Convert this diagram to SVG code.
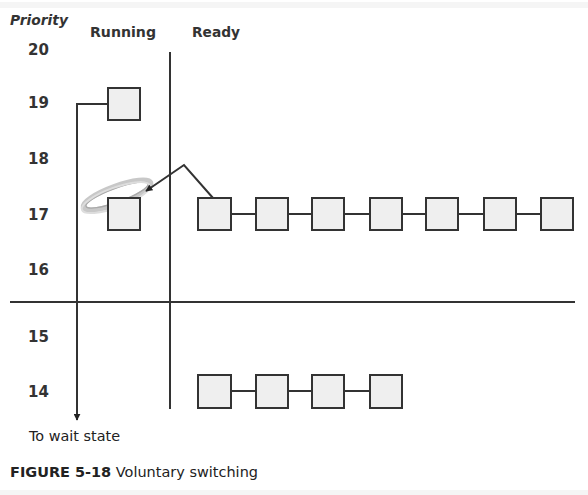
<svg xmlns="http://www.w3.org/2000/svg" width="588" height="495" viewBox="0 0 588 495">
<style>
.box{fill:#efefef;stroke:#333;stroke-width:2}
.ln{stroke:#333;stroke-width:2;fill:none}
.lbl{font-family:"DejaVu Sans","Open Sans",sans-serif;font-weight:bold;font-size:14px;fill:#333}
.num{font-family:"DejaVu Sans","Open Sans",sans-serif;font-weight:bold;font-size:15px;fill:#333}
.txt{font-family:"DejaVu Sans","Open Sans",sans-serif;font-size:13.5px;fill:#222}
</style>
<defs>
<marker id="ah" viewBox="0 0 10 10" refX="9" refY="5" markerWidth="7" markerHeight="7" markerUnits="userSpaceOnUse" orient="auto">
<path d="M0,0 L10,5 L0,10 z" fill="#222"/>
</marker>
</defs>
<rect x="0" y="0" width="588" height="495" fill="#fff"/>
<rect x="0" y="2" width="588" height="6" fill="#f5f5f5"/>
<rect x="0" y="490" width="588" height="5" fill="#f5f5f5"/>

<g id="labels">
<text class="lbl" x="10" y="25" font-style="italic" font-size="13" textLength="58" lengthAdjust="spacingAndGlyphs">Priority</text>
<text class="lbl" x="90" y="37" textLength="66" lengthAdjust="spacingAndGlyphs">Running</text>
<text class="lbl" x="192" y="37" textLength="48" lengthAdjust="spacingAndGlyphs">Ready</text>
<text class="num" x="28" y="55">20</text>
<text class="num" x="28" y="108">19</text>
<text class="num" x="28" y="164">18</text>
<text class="num" x="28" y="220">17</text>
<text class="num" x="28" y="275">16</text>
<text class="num" x="28" y="342">15</text>
<text class="num" x="28" y="397">14</text>
<text class="txt" x="29" y="441" textLength="91" lengthAdjust="spacingAndGlyphs">To wait state</text>
<text class="txt" x="10" y="477" textLength="248" lengthAdjust="spacingAndGlyphs"><tspan font-weight="bold">FIGURE 5-18</tspan>  Voluntary switching</text>
</g>

<g id="halo" fill="none" transform="rotate(-20 117 195)">
<ellipse cx="117" cy="195" rx="36" ry="9" stroke="#c8c8c8" stroke-width="5"/>
<ellipse cx="117" cy="195" rx="33" ry="7" stroke="#aaa" stroke-width="1.5"/>
<ellipse cx="115" cy="197" rx="36" ry="10" stroke="#ddd" stroke-width="2"/>
</g>

<g id="connectors">
<line class="ln" x1="10" y1="302" x2="575" y2="302"/>
<line class="ln" x1="170" y1="52" x2="170" y2="409"/>
<polyline class="ln" points="108,104 77,104 77,420" marker-end="url(#ah)"/>
<polyline class="ln" points="213,198 184,165 146,191" stroke-width="1.5" marker-end="url(#ah)"/>
<line class="ln" x1="231" y1="214" x2="256" y2="214"/>
<line class="ln" x1="288" y1="214" x2="312" y2="214"/>
<line class="ln" x1="344" y1="214" x2="370" y2="214"/>
<line class="ln" x1="402" y1="214" x2="426" y2="214"/>
<line class="ln" x1="458" y1="214" x2="484" y2="214"/>
<line class="ln" x1="516" y1="214" x2="541" y2="214"/>
<line class="ln" x1="231" y1="391" x2="256" y2="391"/>
<line class="ln" x1="288" y1="391" x2="312" y2="391"/>
<line class="ln" x1="344" y1="391" x2="370" y2="391"/>
</g>

<g id="run19"><rect class="box" x="108" y="88" width="32" height="32"/></g>
<g id="run17"><rect class="box" x="108" y="198" width="32" height="32"/></g>
<g id="r17a"><rect class="box" x="198" y="198" width="33" height="32"/></g>
<g id="r17b"><rect class="box" x="256" y="198" width="32" height="32"/></g>
<g id="r17c"><rect class="box" x="312" y="198" width="32" height="32"/></g>
<g id="r17d"><rect class="box" x="370" y="198" width="32" height="32"/></g>
<g id="r17e"><rect class="box" x="426" y="198" width="32" height="32"/></g>
<g id="r17f"><rect class="box" x="484" y="198" width="32" height="32"/></g>
<g id="r17g"><rect class="box" x="541" y="198" width="32" height="32"/></g>
<g id="r14a"><rect class="box" x="198" y="375" width="33" height="33"/></g>
<g id="r14b"><rect class="box" x="256" y="375" width="32" height="33"/></g>
<g id="r14c"><rect class="box" x="312" y="375" width="32" height="33"/></g>
<g id="r14d"><rect class="box" x="370" y="375" width="32" height="33"/></g>
</svg>
